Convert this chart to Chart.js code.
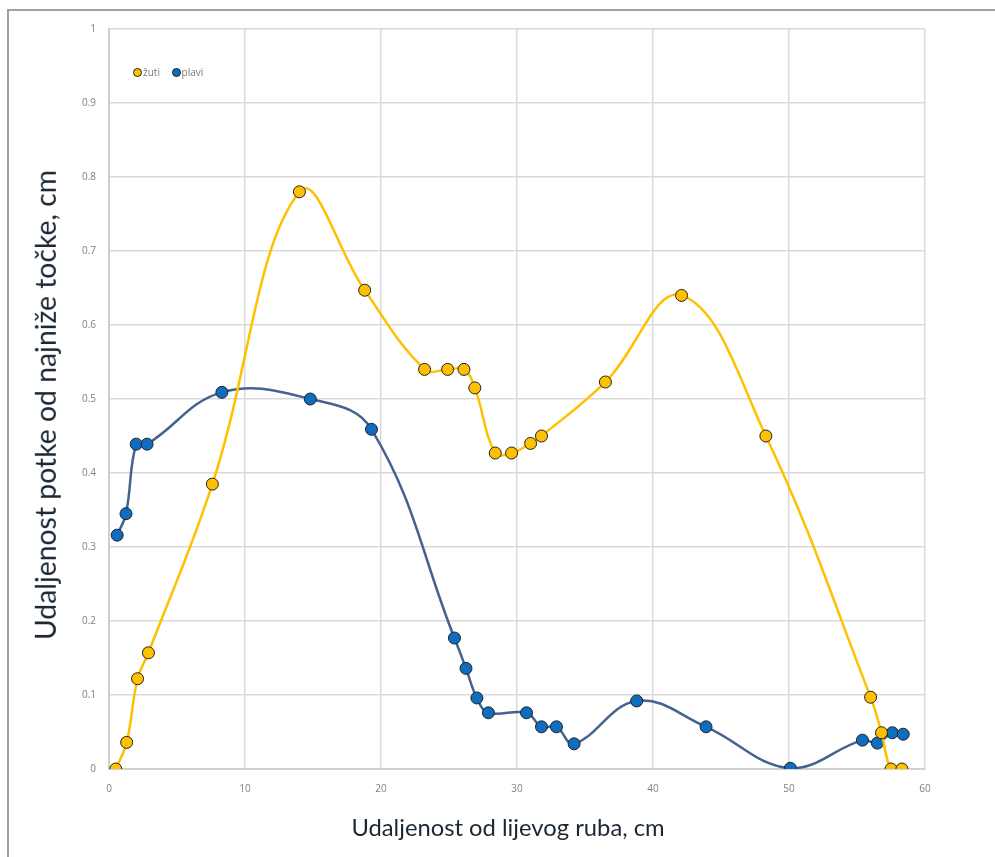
<!DOCTYPE html>
<html>
<head>
<meta charset="utf-8">
<script src="https://cdn.jsdelivr.net/npm/chart.js@4/dist/chart.umd.min.js"></script>
<style>
  html, body { margin:0; padding:0; background:#fff; }
  #wrap { position:relative; width:995px; height:857px; overflow:hidden; }
  #frame { position:absolute; left:7px; top:9px; width:1000px; height:900px; border-left:2px solid #a0a0a0; border-top:2px solid #a0a0a0; box-sizing:border-box; }
  canvas { position:absolute; left:0; top:0; }
  .title { position:absolute; font-family:Lato, "Open Sans", sans-serif; color:#1b2733; white-space:nowrap; line-height:1; }
  #xt { left:508px; top:828px; transform:translate(-50%,-50%); font-size:26px; }
  #yt { left:45px; top:405px; transform:translate(-50%,-50%) rotate(-90deg); font-size:26px; }
  #legend { position:absolute; left:133px; top:65px; font-family:"Open Sans", sans-serif; font-size:10px; color:#7a7a7a; }
  .li { display:inline-block; margin-right:9px; }
  .mk { display:inline-block; width:9px; height:9px; border-radius:50%; border:1px solid #222; vertical-align:-1px; margin-right:1px; box-sizing:border-box; }
</style>
</head>
<body>
<div id="wrap">
  <div id="frame"></div>
  <canvas id="c" width="995" height="857"></canvas>
  <div class="title" id="xt">Udaljenost od lijevog ruba, cm</div>
  <div class="title" id="yt">Udaljenost potke od najniže točke, cm</div>
  <div id="legend">
    <span class="li"><span class="mk" style="background:#FFC000"></span>žuti</span>
    <span class="li"><span class="mk" style="background:#0F6DBF"></span>plavi</span>
  </div>
</div>
<script>
const seriesNames = ["žuti", "plavi"];
const zutiX = [0.5, 1.3, 2.1, 2.9, 7.6, 14.0, 18.8, 23.2, 24.9, 26.1, 26.9, 28.4, 29.6, 31.0, 31.8, 36.5, 42.1, 48.3, 56.0, 56.8, 57.5, 58.3];
const zutiY = [0.0, 0.036, 0.122, 0.157, 0.385, 0.78, 0.647, 0.54, 0.54, 0.54, 0.515, 0.427, 0.427, 0.44, 0.45, 0.523, 0.64, 0.45, 0.097, 0.049, 0.0, 0.0];
const plaviX = [0.6, 1.25, 2.0, 2.8, 8.3, 14.8, 19.3, 25.4, 26.25, 27.05, 27.9, 30.7, 31.8, 32.9, 34.2, 38.8, 43.9, 50.1, 55.4, 56.5, 57.6, 58.4];
const plaviY = [0.316, 0.345, 0.439, 0.439, 0.509, 0.5, 0.459, 0.177, 0.136, 0.096, 0.076, 0.076, 0.057, 0.057, 0.034, 0.092, 0.057, 0.001, 0.039, 0.035, 0.049, 0.047];
const xTicks = [0, 10, 20, 30, 40, 50, 60];
const yTicks = [0, 0.1, 0.2, 0.3, 0.4, 0.5, 0.6, 0.7, 0.8, 0.9, 1];

function pts(xs, ys) { return xs.map((x, i) => ({x: x, y: ys[i]})); }

function fitText(id, target) {
  const el = document.getElementById(id);
  const w = el.offsetWidth;
  const fs = parseFloat(getComputedStyle(el).fontSize);
  el.style.fontSize = (fs * target / w) + 'px';
}

new Chart(document.getElementById('c'), {
  type: 'scatter',
  data: {
    datasets: [
      { label: seriesNames[0], data: pts(zutiX, zutiY), showLine: true, tension: 0.4,
        borderColor: '#FFC000', backgroundColor: '#FFC000', borderWidth: 2.5,
        pointRadius: 6, pointBorderColor: '#222', pointBorderWidth: 1, pointBackgroundColor: '#FFC000' },
      { label: seriesNames[1], data: pts(plaviX, plaviY), showLine: true, tension: 0.4,
        borderColor: '#44648F', backgroundColor: '#0F6DBF', borderWidth: 2.5,
        pointRadius: 6, pointBorderColor: '#222', pointBorderWidth: 1, pointBackgroundColor: '#0F6DBF' }
    ]
  },
  options: {
    responsive: false,
    animation: false,
    layout: { padding: { left: 0, top: 29, right: 70, bottom: 0 } },
    plugins: { legend: { display: false }, tooltip: { enabled: false } },
    scales: {
      x: {
        type: 'linear', min: 0, max: 60,
        afterBuildTicks: (s) => { s.ticks = xTicks.map(v => ({value: v})); },
        afterFit: (s) => { s.height = 88; },
        grid: { color: '#d9d9d9', lineWidth: 1.5, drawTicks: false },
        border: { color: '#d0d0d0', width: 2 },
        ticks: { padding: 14, color: '#7f7f7f', font: { family: 'Open Sans', size: 10 }, maxRotation: 0 }
      },
      y: {
        type: 'linear', min: 0, max: 1,
        afterBuildTicks: (s) => { s.ticks = yTicks.map(v => ({value: v})); },
        afterFit: (s) => { s.width = 109; },
        grid: { color: '#d9d9d9', lineWidth: 1.5, drawTicks: false },
        border: { color: '#d0d0d0', width: 2 },
        ticks: { padding: 13, color: '#7f7f7f', font: { family: 'Open Sans', size: 10 },
          callback: (v) => String(Math.round(v * 10) / 10) }
      }
    }
  }
});
fitText('xt', 313);
fitText('yt', 470);
</script>
</body>
</html>
